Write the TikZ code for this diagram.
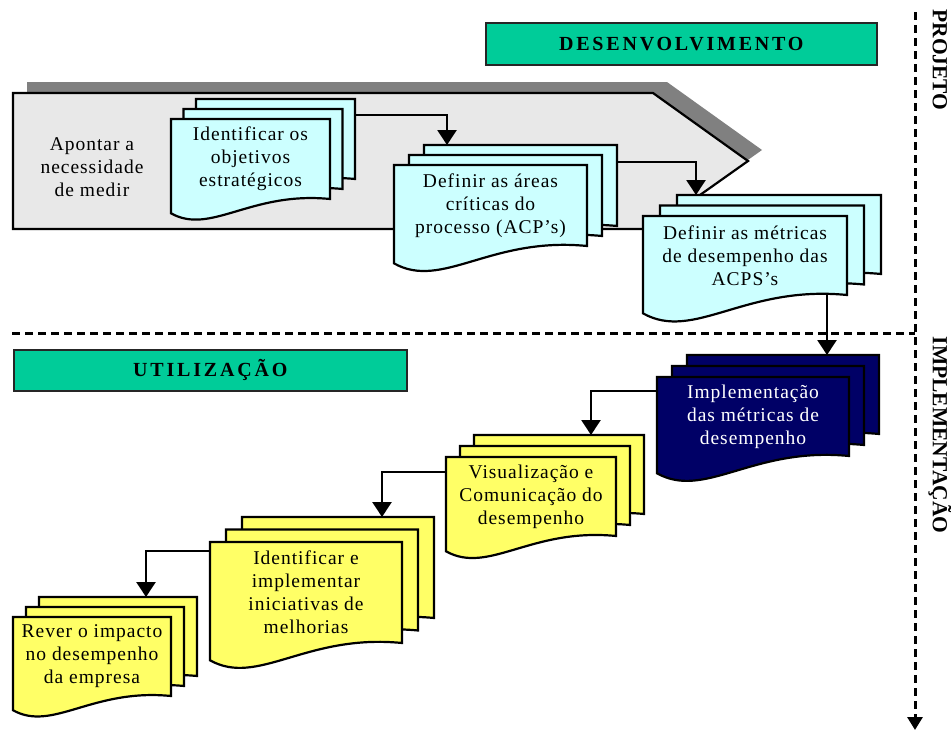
\documentclass[tikz,border=0pt]{standalone}
\usepackage{fontspec}
\setmainfont{Liberation Serif}[LetterSpace=5]
\newfontfamily\headfont{Liberation Serif}[LetterSpace=14]
\newfontfamily\sidefont{Liberation Serif}
\usetikzlibrary{arrows.meta}

\definecolor{docblue}{RGB}{204,255,255}
\definecolor{docyellow}{RGB}{255,255,102}
\definecolor{docnavy}{RGB}{0,0,102}
\definecolor{phasegreen}{RGB}{0,204,153}
\definecolor{arrowgray}{RGB}{232,232,232}
\definecolor{shadowgray}{RGB}{128,128,128}

\tikzset{
  pageline/.style={black,line width=2.2pt},
  bluesheet/.style={fill=docblue},
  yellowsheet/.style={fill=docyellow},
  navysheet/.style={fill=docnavy,text=white},
  doctext/.style={inner sep=0pt,outer sep=0pt,align=center,font=\fontsize{19.5}{23}\selectfont},
  flow/.style={line width=2.5pt,-{Triangle[width=19pt,length=15pt]}},
  phase/.style={draw=black!85,line width=1.6pt,fill=phasegreen,inner sep=0pt,
    font=\headfont\bfseries\fontsize{20}{24}\selectfont},
  sidelabel/.style={inner sep=0pt,font=\sidefont\bfseries\fontsize{21.5}{24}\selectfont},
  divline/.style={line width=3pt,dash pattern=on 8pt off 5pt},
}

% one sheet: x, y (top left), width, height (right edge), sheet style
\newcommand{\docpage}[5]{%
  \draw[pageline,#5] ({#1},{#2}) -- ({#1+#3},{#2}) -- ({#1+#3},{#2+#4})
    .. controls ({#1+0.5*#3},{#2+#4-0.05*#3}) and ({#1+0.25*#3},{#2+#4+0.23*#3})
    .. ({#1},{#2+#4+0.09*#3}) -- cycle;}

% three sheets: name, x, y, width, height, dx, dy, sheet style, text
\newcommand{\docstack}[9]{%
  \docpage{#2+2*#6}{#3+2*#7}{#4}{#5}{#8}
  \docpage{#2+#6}{#3+#7}{#4}{#5}{#8}
  \docpage{#2}{#3}{#4}{#5}{#8}
  \node[inner sep=0pt,outer sep=0pt,minimum width=#4pt,minimum height=#5pt,anchor=north west]
    (#1-b) at ({#2+2*#6},{#3+2*#7}) {};
  \node[doctext,#8,fill=none,minimum width=#4pt,minimum height=#5pt,anchor=north west]
    (#1) at ({#2},{#3}) {#9};}

\begin{document}
\begin{tikzpicture}[x=1pt,y=-1pt]
\useasboundingbox (0,0) rectangle (951,731);

% phase headers
\node[phase,minimum width=391pt,minimum height=42pt,anchor=north west] (desenv) at (485,22) {DESENVOLVIMENTO};
\node[phase,minimum width=393pt,minimum height=41pt,anchor=north west] (utiliz) at (13,349) {UTILIZAÇÃO};

% big gray arrow with its shadow
\fill[shadowgray] (27,82) -- (667,82) -- (762,150) -- (666,218) -- (27,218) -- cycle;
\draw[pageline,fill=arrowgray] (13,93) -- (653,93) -- (748,161) -- (652,229) -- (13,229) -- cycle;
\node[doctext] (apontar) at (92,167) {Apontar a\\necessidade\\de medir};

% project / implementation limits
\coordinate (vtop) at (915,12);
\coordinate (vend) at (915,730);
\coordinate (hleft) at (12,333);
\draw[divline,-{Triangle[width=15pt,length=13pt]}] (vtop) -- (vend);
\draw[divline] (hleft) -- (hleft -| vtop);
\node[sidelabel,rotate=-90] (projeto) at (940,60) {PROJETO};
\node[sidelabel,rotate=-90] (implem) at (940,435) {IMPLEMENTAÇÃO};

% document stacks
\docstack{obj}{171}{119}{159}{80}{12.5}{-10}{bluesheet}{Identificar os\\objetivos\\estratégicos}
\docstack{acp}{394}{165}{193}{81}{15}{-10}{bluesheet}{Definir as áreas\\críticas do\\processo (ACP’s)}
\docstack{met}{643}{216}{204}{79}{17}{-10.5}{bluesheet}{Definir as métricas\\de desempenho das\\ACPS’s}
\docstack{impl}{657}{377}{192}{79}{15}{-11}{navysheet}{Implementação\\das métricas de\\desempenho}
\docstack{vis}{446}{457}{170}{79}{14}{-11}{yellowsheet}{Visualização e\\Comunicação do\\desempenho}
\docstack{melh}{210}{542}{192}{101}{16}{-12.5}{yellowsheet}{Identificar e\\implementar\\iniciativas de\\melhorias}
\docstack{rever}{13}{617}{158}{79}{13}{-10}{yellowsheet}{Rever o impacto\\no desempenho\\da empresa}

% flow between the stacks
\draw[flow] ([yshift=-16pt]obj-b.north east) -| ([xshift=23pt]acp-b.north west);
\draw[flow] ([yshift=-17pt]acp-b.north east) -| ([xshift=19pt]met-b.north west);
\draw[flow] ([xshift=-20pt]met.south east) -- ([xshift=-20pt]met.south east |- impl-b.north);
\draw[flow] ([yshift=-14pt]impl.north west) -| ([xshift=117pt]vis-b.north west);
\draw[flow] ([yshift=-15pt]vis.north west) -| ([xshift=140pt]melh-b.north west);
\draw[flow] ([yshift=-9pt]melh.north west) -| ([xshift=107pt]rever-b.north west);
\end{tikzpicture}
\end{document}
